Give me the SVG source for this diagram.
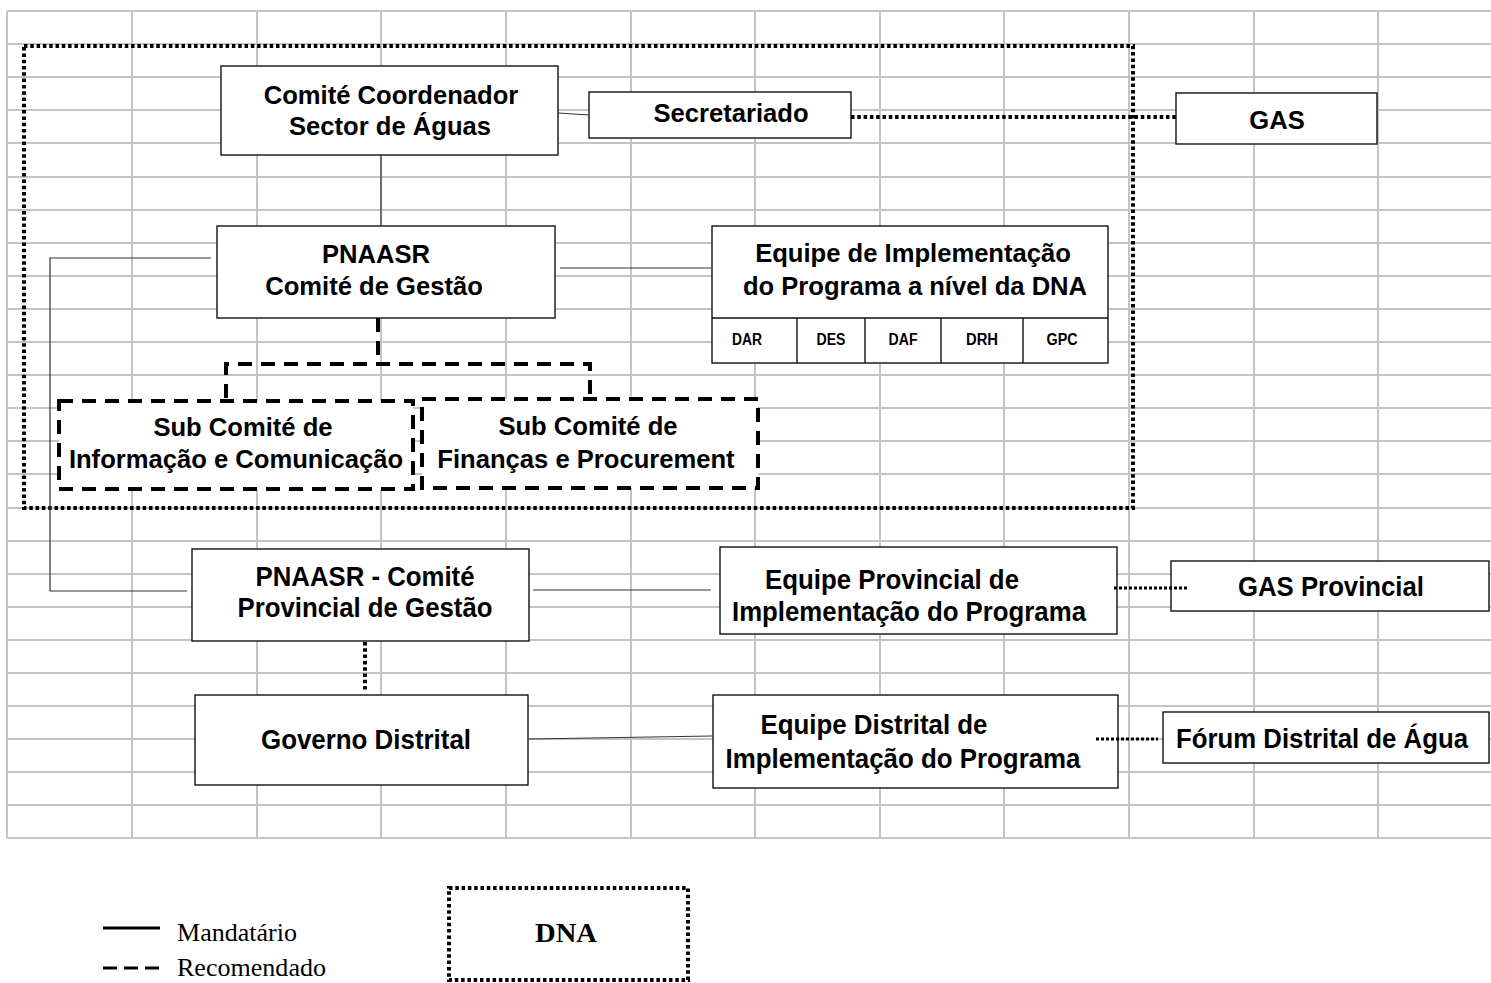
<svg xmlns="http://www.w3.org/2000/svg" width="1491" height="983" viewBox="0 0 1491 983">
<style>
.grid{fill:none;stroke:#c4c4c4;stroke-width:2}
.box{fill:#fff;stroke:#111;stroke-width:1.4}
.dbox{fill:#fff;stroke:#000;stroke-width:4;stroke-dasharray:14 9}
.dna{fill:none;stroke:#000;stroke-width:4;stroke-dasharray:3.5 2.8}
.solid{fill:none;stroke:#333;stroke-width:1.2}
.dash{fill:none;stroke:#000;stroke-width:4;stroke-dasharray:14 9}
.dot{fill:none;stroke:#000;stroke-width:4;stroke-dasharray:3.5 2.8}
.dot2{fill:none;stroke:#000;stroke-width:3;stroke-dasharray:3 2}
.t{font-family:"Liberation Sans",Arial,sans-serif;font-weight:bold;font-size:25.6px;text-anchor:middle;fill:#000}
.tl{font-family:"Liberation Sans",Arial,sans-serif;font-weight:bold;font-size:28px;text-anchor:middle;fill:#000}
.ts{font-family:"Liberation Sans",Arial,sans-serif;font-weight:bold;font-size:16px;text-anchor:middle;fill:#000}
.lg{font-family:"Liberation Serif","Times New Roman",serif;font-size:25px;fill:#000}
.lgb{font-family:"Liberation Serif","Times New Roman",serif;font-weight:bold;font-size:28px;text-anchor:middle;fill:#000}
</style>
<rect width="1491" height="983" fill="#fff"/>
<g id="grid">
<path class="grid" d="M7 11H1491M7 44H1491M7 77H1491M7 110H1491M7 143H1491M7 177H1491M7 210H1491M7 243H1491M7 276H1491M7 309H1491M7 342H1491M7 375H1491M7 408H1491M7 441H1491M7 474H1491M7 508H1491M7 541H1491M7 574H1491M7 607H1491M7 640H1491M7 673H1491M7 706H1491M7 739H1491M7 772H1491M7 805H1491M7 838H1491M7 11V838M132 11V838M257 11V838M381 11V838M506 11V838M631 11V838M755 11V838M880 11V838M1004 11V838M1129 11V838M1254 11V838M1378 11V838"/>
</g>
<g id="dna-boundary">
<rect class="dna" x="24" y="46" width="1109" height="462"/>
</g>
<g id="comite-coordenador">
<rect class="box" x="221" y="66" width="337" height="89"/>
<text class="t" x="391" y="104">Comité Coordenador</text>
<text class="t" x="390" y="135">Sector de Águas</text>
</g>
<g id="secretariado">
<rect class="box" x="589" y="92" width="262" height="46"/>
<text class="t" x="731" y="122">Secretariado</text>
</g>
<g id="gas">
<rect class="box" x="1176" y="93" width="201" height="51"/>
<text class="t" x="1277" y="129">GAS</text>
</g>
<g id="pnaasr-gestao">
<rect class="box" x="217" y="226" width="338" height="92"/>
<text class="t" x="376" y="263">PNAASR</text>
<text class="t" x="374" y="295">Comité de Gestão</text>
</g>
<g id="equipe-dna">
<rect class="box" x="712" y="226" width="396" height="137"/>
<path class="box" d="M712 318H1108M797 318V363M865 318V363M941 318V363M1023 318V363"/>
<text class="t" x="913" y="262">Equipe de Implementação</text>
<text class="t" x="915" y="295">do Programa a nível da DNA</text>
<text class="ts" x="747" y="345" textLength="30" lengthAdjust="spacingAndGlyphs">DAR</text>
<text class="ts" x="831" y="345" textLength="29" lengthAdjust="spacingAndGlyphs">DES</text>
<text class="ts" x="903" y="345" textLength="29" lengthAdjust="spacingAndGlyphs">DAF</text>
<text class="ts" x="982" y="345" textLength="32" lengthAdjust="spacingAndGlyphs">DRH</text>
<text class="ts" x="1062" y="345" textLength="31" lengthAdjust="spacingAndGlyphs">GPC</text>
</g>
<g id="sub-comite-info">
<rect class="dbox" x="59" y="401" width="354" height="88"/>
<text class="t" x="243" y="436">Sub Comité de</text>
<text class="t" x="236" y="468">Informação e Comunicação</text>
</g>
<g id="sub-comite-financas">
<rect class="dbox" x="422" y="399" width="336" height="89"/>
<text class="t" x="588" y="435">Sub Comité de</text>
<text class="t" x="586" y="468">Finanças e Procurement</text>
</g>
<g id="pnaasr-provincial">
<rect class="box" x="192" y="549" width="337" height="92"/>
<text class="tl" x="365" y="586" textLength="219" lengthAdjust="spacingAndGlyphs">PNAASR - Comité</text>
<text class="tl" x="365" y="617" textLength="255" lengthAdjust="spacingAndGlyphs">Provincial de Gestão</text>
</g>
<g id="equipe-provincial">
<rect class="box" x="720" y="547" width="397" height="87"/>
<text class="tl" x="892" y="589" textLength="254" lengthAdjust="spacingAndGlyphs">Equipe Provincial de</text>
<text class="tl" x="909" y="621" textLength="354" lengthAdjust="spacingAndGlyphs">Implementação do Programa</text>
</g>
<g id="gas-provincial">
<rect class="box" x="1171" y="561" width="318" height="50"/>
<text class="tl" x="1331" y="596" textLength="186" lengthAdjust="spacingAndGlyphs">GAS Provincial</text>
</g>
<g id="governo-distrital">
<rect class="box" x="195" y="695" width="333" height="90"/>
<text class="tl" x="366" y="749" textLength="210" lengthAdjust="spacingAndGlyphs">Governo Distrital</text>
</g>
<g id="equipe-distrital">
<rect class="box" x="713" y="695" width="405" height="93"/>
<text class="tl" x="874" y="734" textLength="227" lengthAdjust="spacingAndGlyphs">Equipe Distrital de</text>
<text class="tl" x="903" y="768" textLength="355" lengthAdjust="spacingAndGlyphs">Implementação do Programa</text>
</g>
<g id="forum-distrital">
<rect class="box" x="1163" y="712" width="326" height="51"/>
<text class="tl" x="1322" y="748" textLength="292" lengthAdjust="spacingAndGlyphs">Fórum Distrital de Água</text>
</g>
<g id="connectors">
<path class="solid" d="M558 113L589 115"/>
<path class="solid" d="M381 155V226"/>
<path class="solid" d="M211 258H50V591H187"/>
<path class="solid" d="M560 268H711"/>
<path class="solid" d="M533 590H711"/>
<path class="solid" d="M529 739L712 736"/>
<path class="dash" d="M378 318V364M226 398V364H590V398"/>
<path class="dot" d="M851 117H1176"/>
<path class="dot" d="M365 642V692"/>
<path class="dot2" d="M1114 588H1189"/>
<path class="dot2" d="M1096 739H1158"/>
</g>
<g id="legend">
<path d="M103 928H160" stroke="#000" stroke-width="3"/>
<text class="lg" x="177" y="941" textLength="120" lengthAdjust="spacingAndGlyphs">Mandatário</text>
<path d="M103 968H160" stroke="#000" stroke-width="3" stroke-dasharray="14 7"/>
<text class="lg" x="177" y="976" textLength="149" lengthAdjust="spacingAndGlyphs">Recomendado</text>
<rect class="dna" x="449" y="888" width="239" height="92"/>
<text class="lgb" x="566" y="942" textLength="62" lengthAdjust="spacingAndGlyphs">DNA</text>
</g>
</svg>
